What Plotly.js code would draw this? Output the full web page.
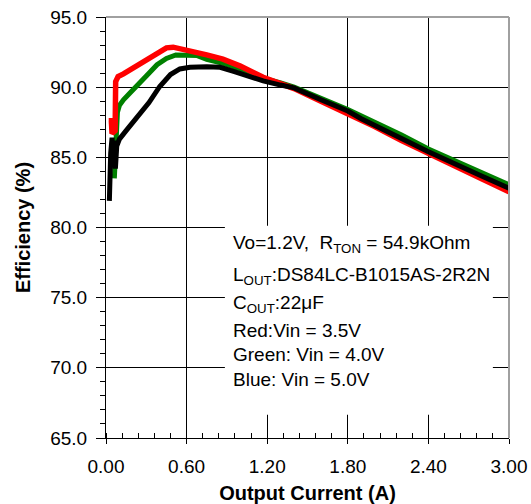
<!DOCTYPE html>
<html>
<head>
<meta charset="utf-8">
<script src="https://cdn.plot.ly/plotly-3.0.1.min.js"></script>
<style>html,body{margin:0;padding:0;background:#fff;}#chart{width:531px;height:504px;}</style>
</head>
<body>
<div id="chart"></div>
<script>
// Vin = 3.5 V (red)
const redX = [0.02,0.04,0.045,0.06,0.068,0.072,0.09,0.13,0.2,0.29,0.38,0.45,0.5,0.6,0.75,0.87,1.0,1.17,1.3,1.4,1.6,1.8,2.0,2.2,2.4,2.6,2.8,3.0];
const redY = [87.6,87.6,86.7,86.8,86.9,90.4,90.75,90.95,91.35,91.85,92.4,92.8,92.85,92.65,92.3,92.0,91.5,90.7,90.3,89.9,89.0,88.15,87.2,86.2,85.25,84.35,83.45,82.55];
// Vin = 4.0 V (green)
const greenX = [0.062,0.07,0.078,0.085,0.1,0.13,0.18,0.23,0.3,0.38,0.45,0.52,0.6,0.68,0.75,0.87,1.0,1.17,1.3,1.4,1.6,1.8,2.0,2.2,2.4,2.6,2.8,3.0];
const greenY = [83.5,84.8,86.5,88.2,88.7,89.1,89.6,90.05,90.8,91.6,92.05,92.3,92.25,92.25,91.98,91.7,91.3,90.65,90.3,90.0,89.2,88.4,87.5,86.6,85.6,84.75,83.9,83.05];
// Vin = 5.0 V (black)
const blackX = [0.025,0.028,0.035,0.045,0.055,0.06,0.07,0.08,0.1,0.15,0.2,0.25,0.32,0.4,0.48,0.55,0.625,0.75,0.85,0.95,1.05,1.17,1.3,1.4,1.6,1.8,1.9,2.0,2.2,2.4,2.6,2.8,3.0];
const blackY = [81.9,84.5,85.3,86.4,84.3,86.2,84.2,85.8,86.3,86.9,87.45,88.05,88.9,90.05,90.9,91.3,91.42,91.45,91.42,91.12,90.8,90.45,90.15,89.95,89.1,88.3,87.75,87.3,86.35,85.4,84.5,83.65,82.8];

const noteLines = [
  "Vo=1.2V,  R<sub>TON</sub> = 54.9kOhm",
  "L<sub>OUT</sub>:DS84LC-B1015AS-2R2N",
  "C<sub>OUT</sub>:22μF",
  "Red:Vin = 3.5V",
  "Green: Vin = 4.0V",
  "Blue: Vin = 5.0V"
];
const noteY = [78.8, 76.55, 74.55, 72.65, 70.95, 69.2];

const font = "Arial, 'Liberation Sans', sans-serif";

const traces = [
  {x: greenX, y: greenY, mode: "lines", line: {color: "#008000", width: 5}, hoverinfo: "skip"},
  {x: redX, y: redY, mode: "lines", line: {color: "#ff0000", width: 5.5}, hoverinfo: "skip"},
  {x: blackX, y: blackY, mode: "lines", line: {color: "#000000", width: 5}, hoverinfo: "skip"}
];

const layout = {
  width: 531, height: 504,
  margin: {l: 106, r: 22, t: 17, b: 66},
  paper_bgcolor: "#fff", plot_bgcolor: "#fff",
  showlegend: false,
  font: {family: font, size: 19, color: "#000"},
  xaxis: {
    range: [0, 3], dtick: 0.6, tick0: 0, tickformat: ".2f",
    ticks: "outside", ticklen: 5, tickcolor: "#000", ticklabelstandoff: 6,
    showgrid: true, gridcolor: "#000", gridwidth: 1, zeroline: false,
    showline: true, linecolor: "#000", linewidth: 1,
    minor: {dtick: 0.12, tick0: 0, ticks: "inside", ticklen: 5, tickcolor: "#000", showgrid: false},
    tickfont: {size: 19},
    title: {text: "<b>Output Current (A)</b>", font: {size: 20}, standoff: 13}
  },
  yaxis: {
    range: [65, 95], dtick: 5, tick0: 65, tickformat: ".1f",
    ticks: "outside", ticklen: 9, tickcolor: "#000", ticklabelstandoff: 5,
    showgrid: true, gridcolor: "#000", gridwidth: 1, zeroline: false,
    showline: true, linecolor: "#000", linewidth: 1,
    minor: {dtick: 1, tick0: 65, ticks: "outside", ticklen: 5, tickcolor: "#000", showgrid: false},
    tickfont: {size: 19},
    title: {text: "<b>Efficiency (%)</b>", font: {size: 20}, standoff: 14}
  },
  yaxis2: {
    overlaying: "y", side: "left", range: [65, 95], dtick: 1, tick0: 65,
    ticks: "inside", ticklen: 5, tickcolor: "#000",
    showticklabels: false, showgrid: false, zeroline: false, showline: false
  },
  shapes: [
    {type: "rect", xref: "x", yref: "y", x0: 0.885, x1: 2.88, y0: 66.65, y1: 80.13,
     fillcolor: "#fff", line: {width: 0}, layer: "between"},
    {type: "line", xref: "paper", yref: "paper", x0: 0, x1: 1, y0: 1, y1: 1,
     line: {color: "#a0a0a0", width: 2}, layer: "above"},
    {type: "line", xref: "paper", yref: "paper", x0: 1, x1: 1, y0: 0, y1: 1,
     line: {color: "#a0a0a0", width: 2}, layer: "above"}
  ],
  annotations: noteLines.map((t, i) => ({
    text: t, xref: "x", yref: "y", x: 0.93, y: noteY[i],
    xanchor: "left", yanchor: "middle", showarrow: false,
    font: {family: font, size: 19, color: "#000"}
  }))
};

Plotly.newPlot("chart", traces, layout, {staticPlot: true, displayModeBar: false});
</script>
</body>
</html>
